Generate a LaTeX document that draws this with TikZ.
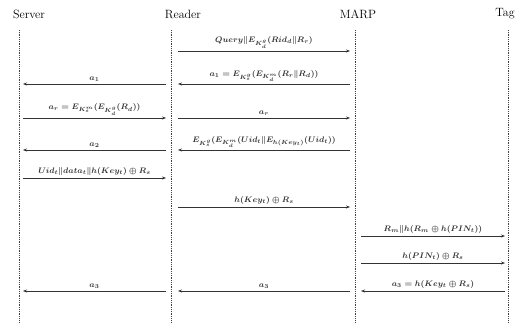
\documentclass[tikz,border=0pt]{standalone}
\usetikzlibrary{arrows.meta}
\begin{document}
\begin{tikzpicture}[x=1pt,y=-1pt,
  hdr/.style={font=\large},
  life/.style={densely dotted, line width=0.8pt, black!75},
  msg/.style={line width=0.8pt, black!80, -{Stealth[length=4pt,width=3pt]}},
  lbl/.style={above=1.5pt, font=\footnotesize\boldmath, inner sep=1pt}]
\useasboundingbox (0,0) rectangle (526,326);
% headers
\node[hdr] (srv) at (29,14) {Server};
\node[hdr] (rdr) at (183,14) {Reader};
\node[hdr] (marp) at (358,14) {MARP};
\node[hdr] (tag) at (505,14) {Tag};
% lifelines
\coordinate (sT) at (19,30);  \coordinate (sB) at (19,322);
\coordinate (rT) at (171,30); \coordinate (rB) at (171,322);
\coordinate (mT) at (355,30); \coordinate (mB) at (355,322);
\coordinate (tT) at (508,30); \coordinate (tB) at (508,322);
\draw[life] (sT) -- (sB);
\draw[life] (rT) -- (rB);
\draw[life] (mT) -- (mB);
\draw[life] (tT) -- (tB);
% message end points
\foreach \r/\y in {1/51,2/84,3/118,4/150,5/178,6/207,7/236,8/263,9/291}{
  \coordinate (s\r) at (23,\y);
  \coordinate (rl\r) at (166,\y);
  \coordinate (rr\r) at (178,\y);
  \coordinate (ml\r) at (350,\y);
  \coordinate (mr\r) at (361,\y);
  \coordinate (t\r) at (505,\y);
}
% row 1
\draw[msg] (rr1) -- node[lbl]{$Query\|E_{K_d^g}(Rid_d\|R_r)$} (ml1);
% row 2
\draw[msg] (rl2) -- node[lbl]{$a_1$} (s2);
\draw[msg] (ml2) -- node[lbl]{$a_1=E_{K_s^g}(E_{K_d^m}(R_r\|R_d))$} (rr2);
% row 3
\draw[msg] (s3) -- node[lbl]{$a_r=E_{K_s^m}(E_{K_d^g}(R_d))$} (rl3);
\draw[msg] (rr3) -- node[lbl]{$a_r$} (ml3);
% row 4
\draw[msg] (rl4) -- node[lbl]{$a_2$} (s4);
\draw[msg] (ml4) -- node[lbl]{$E_{K_s^g}(E_{K_d^m}(Uid_t\|E_{h(Key_t)}(Uid_t))$} (rr4);
% row 5
\draw[msg] (s5) -- node[lbl]{$Uid_t\|data_t\|h(Key_t)\oplus R_s$} (rl5);
% row 6
\draw[msg] (rr6) -- node[lbl]{$h(Key_t)\oplus R_s$} (ml6);
% row 7
\draw[msg] (mr7) -- node[lbl]{$R_m\|h(R_m\oplus h(PIN_t))$} (t7);
% row 8
\draw[msg] (mr8) -- node[lbl]{$h(PIN_t)\oplus R_s$} (t8);
% row 9
\draw[msg] (t9) -- node[lbl]{$a_3=h(Key_t\oplus R_s)$} (mr9);
\draw[msg] (ml9) -- node[lbl]{$a_3$} (rr9);
\draw[msg] (rl9) -- node[lbl]{$a_3$} (s9);
\end{tikzpicture}
\end{document}
